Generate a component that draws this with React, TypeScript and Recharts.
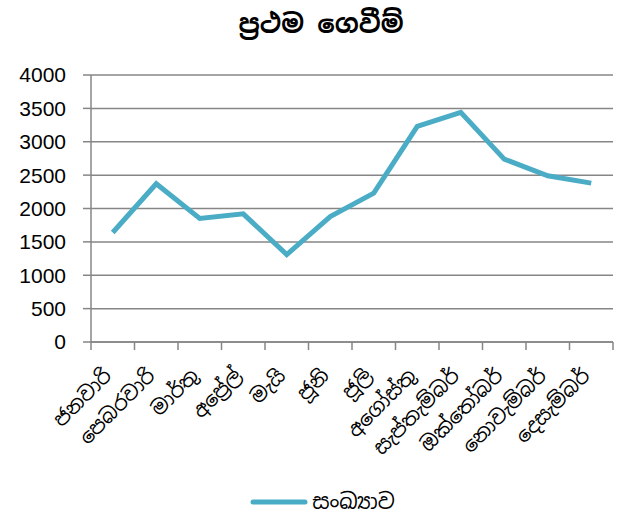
import { LineChart, Line, XAxis, YAxis, CartesianGrid, Legend } from 'recharts'

const months = [
  'ජනවාරි',
  'පෙබරවාරි',
  'මාර්තු',
  'අප්‍රේල්',
  'මැයි',
  'ජූනි',
  'ජූලි',
  'අගෝස්තු',
  'සැප්තැම්බර්',
  'ඔක්තෝබර්',
  'නොවැම්බර්',
  'දෙසැම්බර්',
]
const counts = [1640, 2370, 1850, 1920, 1310, 1880, 2230, 3230, 3440, 2740, 2490, 2380]
const yTicks = [0, 500, 1000, 1500, 2000, 2500, 3000, 3500, 4000]

const seriesName = 'සංඛ්‍යාව'
const title = 'ප්‍රථම ගෙවීම්'

const data = months.map((m, i) => ({ month: m, value: counts[i] }))

const W = 622
const H = 515
const PLOT_LEFT = 91
const PLOT_RIGHT = 9
const BAND = (W - PLOT_LEFT - PLOT_RIGHT) / months.length
const LINE_COLOR = '#4BACC6'
const GRID = '#868686'
const SINHALA = '"Noto Sans Sinhala", "Iskoola Pota", "Noto Sans", sans-serif'

function MonthTick(props: any) {
  const { x, y, payload, index } = props
  const last = index === months.length - 1
  return (
    <g>
      <line x1={x - BAND / 2} x2={x - BAND / 2} y1={y} y2={y + 8} stroke={GRID} strokeWidth={1.5} />
      {last && <line x1={x + BAND / 2} x2={x + BAND / 2} y1={y} y2={y + 8} stroke={GRID} strokeWidth={1.5} />}
      <text
        transform={`translate(${x},${y + 35}) rotate(-45)`}
        textAnchor="end"
        fontSize={20}
        fontFamily={SINHALA}
        fill="#000"
      >
        {payload.value}
      </text>
    </g>
  )
}

function LegendContent() {
  return (
    <div
      style={{
        display: 'flex',
        justifyContent: 'center',
        alignItems: 'center',
        paddingLeft: 32,
        fontFamily: SINHALA,
        fontSize: 21,
      }}
    >
      <svg width={58} height={10} style={{ marginRight: 4 }}>
        <line x1={3} x2={55} y1={5} y2={5} stroke={LINE_COLOR} strokeWidth={5} strokeLinecap="round" />
      </svg>
      <span>{seriesName}</span>
    </div>
  )
}

export default function App() {
  return (
    <div style={{ position: 'absolute', left: 0, top: 0, width: W, height: H, background: '#fff' }}>
      <div
        style={{
          position: 'absolute',
          top: 7,
          left: 0,
          width: W,
          paddingLeft: 20,
          boxSizing: 'border-box',
          textAlign: 'center',
          fontFamily: SINHALA,
          fontWeight: 'bold',
          fontSize: 26,
        }}
      >
        {title}
      </div>
      <LineChart width={W} height={H} data={data} margin={{ top: 75, right: PLOT_RIGHT, bottom: 0, left: 0 }}>
        <CartesianGrid vertical={false} stroke={GRID} strokeWidth={1.5} />
        <XAxis
          dataKey="month"
          interval={0}
          height={146}
          padding={{ left: BAND / 2, right: BAND / 2 }}
          tickLine={false}
          tickSize={0}
          tickMargin={0}
          axisLine={{ stroke: GRID, strokeWidth: 1.5 }}
          tick={<MonthTick />}
        />
        <YAxis
          width={PLOT_LEFT}
          domain={[0, 4000]}
          ticks={yTicks}
          interval={0}
          tickSize={8}
          tickMargin={17}
          tickLine={{ stroke: GRID, strokeWidth: 1.5 }}
          axisLine={{ stroke: GRID, strokeWidth: 1.5 }}
          tick={{ fill: '#000', fontSize: 21, fontFamily: '"Liberation Sans", sans-serif' }}
        />
        <Legend verticalAlign="bottom" content={<LegendContent />} />
        <Line
          type="linear"
          dataKey="value"
          name={seriesName}
          stroke={LINE_COLOR}
          strokeWidth={5}
          dot={false}
          isAnimationActive={false}
        />
      </LineChart>
    </div>
  )
}
